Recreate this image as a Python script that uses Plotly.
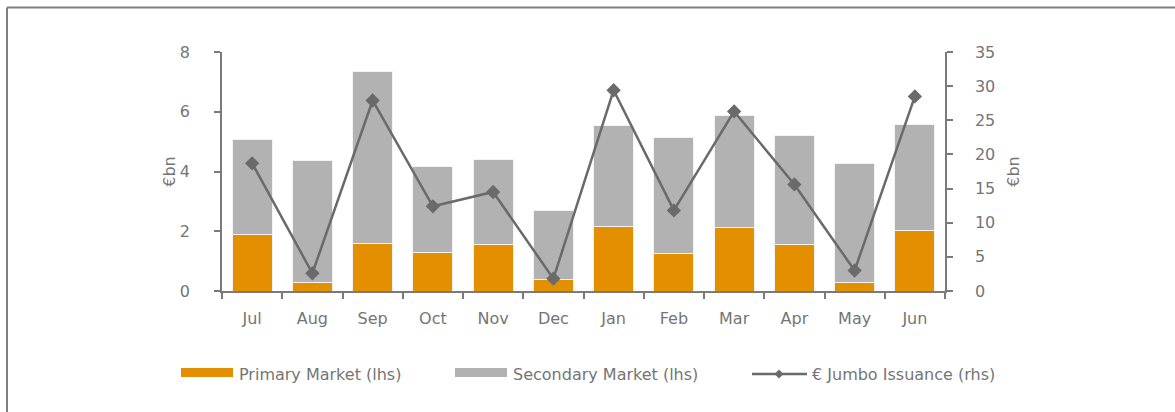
import plotly.graph_objects as go

months = ["Jul", "Aug", "Sep", "Oct", "Nov", "Dec", "Jan", "Feb", "Mar", "Apr", "May", "Jun"]
primary = [1.88, 0.27, 1.60, 1.30, 1.54, 0.37, 2.17, 1.27, 2.11, 1.54, 0.30, 2.04]
total = [5.08, 4.38, 7.36, 4.18, 4.41, 2.71, 5.55, 5.15, 5.89, 5.22, 4.28, 5.59]
secondary = [round(t - p, 2) for t, p in zip(total, primary)]
jumbo = [18.7, 2.6, 27.9, 12.4, 14.5, 1.8, 29.4, 11.8, 26.3, 15.6, 3.0, 28.5]

left_ticks = [0, 2, 4, 6, 8]
right_ticks = [0, 5, 10, 15, 20, 25, 30, 35]

ORANGE = "#E38F00"
GREY = "#B2B2B3"
LINE = "#6A6A6A"
TXT = "#757575"
AX = "#7A7A7A"
FONT = "DejaVu Sans"
FS = 16

fig = go.Figure()
fig.add_trace(go.Bar(x=months, y=primary, name="Primary Market (lhs)",
                     marker=dict(color=ORANGE, line=dict(color="#F3F3F3", width=1)),
                     showlegend=False))
fig.add_trace(go.Bar(x=months, y=secondary, name="Secondary Market (lhs)",
                     marker=dict(color=GREY, line=dict(color="#F3F3F3", width=1)),
                     showlegend=False))
fig.add_trace(go.Scatter(x=months, y=jumbo, yaxis="y2", name="€ Jumbo Issuance (rhs)",
                         mode="lines+markers",
                         line=dict(color=LINE, width=2.5),
                         marker=dict(symbol="diamond", size=11, color=LINE),
                         showlegend=False))

L, R, T, B = 222, 230, 52, 121
W, H = 1175, 412
pw, ph = W - L - R, H - T - B

def px(x):
    return (x - L) / pw

def py(y):
    return (H - B - y) / ph

shapes = [
    # outer frame (top and left)
    dict(type="line", xref="paper", yref="paper", x0=px(7), x1=px(1175), y0=py(7.5), y1=py(7.5),
         line=dict(color="#7F7F7F", width=2)),
    dict(type="line", xref="paper", yref="paper", x0=px(7), x1=px(7), y0=py(7.5), y1=py(412),
         line=dict(color="#7F7F7F", width=2)),
    # legend swatches
    dict(type="rect", xref="paper", yref="paper", x0=px(181), x1=px(233), y0=py(368), y1=py(377),
         fillcolor=ORANGE, line=dict(width=0)),
    dict(type="rect", xref="paper", yref="paper", x0=px(455), x1=px(507), y0=py(368), y1=py(377),
         fillcolor=GREY, line=dict(width=0)),
    dict(type="line", xref="paper", yref="paper", x0=px(752), x1=px(807), y0=py(374), y1=py(374),
         line=dict(color=LINE, width=2.5)),
    dict(type="path", xref="paper", yref="paper",
         path=f"M {px(779)},{py(369.5)} L {px(783.5)},{py(374)} L {px(779)},{py(378.5)} L {px(774.5)},{py(374)} Z",
         fillcolor=LINE, line=dict(width=0)),
]

annotations = [
    dict(text="Primary Market (lhs)", x=px(237), y=py(374), xref="paper", yref="paper",
         xanchor="left", yanchor="middle", showarrow=False, font=dict(family=FONT, size=FS, color=TXT)),
    dict(text="Secondary Market (lhs)", x=px(511), y=py(374), xref="paper", yref="paper",
         xanchor="left", yanchor="middle", showarrow=False, font=dict(family=FONT, size=FS, color=TXT)),
    dict(text="€ Jumbo Issuance (rhs)", x=px(810), y=py(374), xref="paper", yref="paper",
         xanchor="left", yanchor="middle", showarrow=False, font=dict(family=FONT, size=FS, color=TXT)),
]

fig.update_layout(
    template="none",
    width=W, height=H,
    margin=dict(l=L, r=R, t=T, b=B, pad=0, autoexpand=False),
    paper_bgcolor="white", plot_bgcolor="white",
    barmode="stack", bargap=0.34,
    font=dict(family=FONT, size=FS, color=TXT),
    showlegend=False,
    shapes=shapes, annotations=annotations,
    xaxis=dict(
        range=[-0.5, len(months) - 0.5], autorange=False, automargin=False,
        showgrid=False, showline=True, linecolor=AX, linewidth=1.5, zeroline=False,
        ticks="outside", tickson="boundaries", ticklen=6, tickcolor=AX, tickwidth=1.5,
        ticklabelstandoff=12, tickfont=dict(family=FONT, size=FS, color=TXT),
    ),
    yaxis=dict(
        range=[0, 8], tickvals=left_ticks, showgrid=False, zeroline=False, automargin=False,
        showline=True, linecolor=AX, linewidth=1.5,
        ticks="outside", ticklen=6, tickcolor=AX, tickwidth=1.5,
        ticklabelstandoff=21, tickfont=dict(family=FONT, size=FS, color=TXT),
        title=dict(text="€bn", standoff=0, font=dict(family=FONT, size=FS, color=TXT)),
    ),
    yaxis2=dict(
        range=[0, 35], tickvals=right_ticks, overlaying="y", side="right", automargin=False,
        showgrid=False, zeroline=False,
        showline=True, linecolor=AX, linewidth=1.5,
        ticks="outside", ticklen=6, tickcolor=AX, tickwidth=1.5,
        ticklabelstandoff=19, tickfont=dict(family=FONT, size=FS, color=TXT),
        title=dict(text="€bn", standoff=13, font=dict(family=FONT, size=FS, color=TXT)),
    ),
)

fig.write_html("out.html", config={"displayModeBar": False},
               post_script="document.body.style.margin='0';")
